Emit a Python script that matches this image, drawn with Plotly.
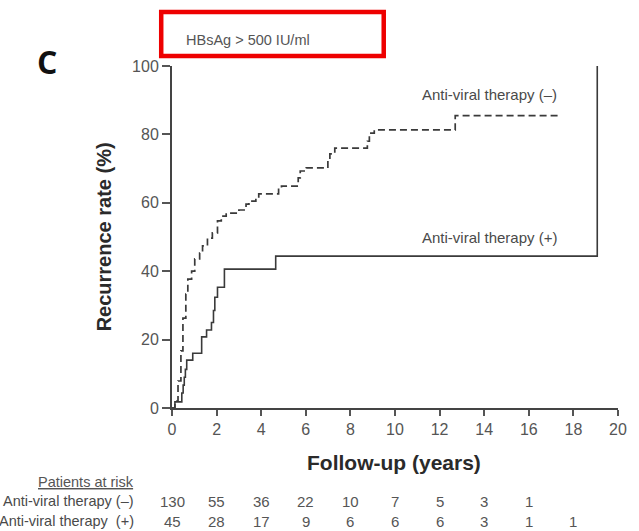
import plotly.graph_objects as go

# ---- data ----
years_ticks = [0, 2, 4, 6, 8, 10, 12, 14, 16, 18, 20]
rate_ticks = [0, 20, 40, 60, 80, 100]

# Anti-viral therapy (-) : dashed curve
neg_t = [0, 0.13, 0.27, 0.4, 0.49, 0.62, 0.71, 0.88, 1.02, 1.24, 1.37, 1.59, 1.81, 2.04, 2.21,
         2.43, 3.0, 3.32, 3.45, 3.76, 3.89, 4.78, 4.91, 5.66, 5.75, 6.02, 6.99, 7.08, 7.3,
         8.76, 8.85, 9.07, 12.7, 17.3]
neg_v = [0, 2, 7.9, 16.7, 26.3, 33.3, 37.7, 40, 43.6, 45.3, 47.4, 49.7, 51.2, 54.7, 56.1,
         57, 57.9, 59.6, 60.5, 61.4, 62.6, 64.3, 64.9, 67.3, 69.3, 70.2, 72.8, 74.3, 76,
         78, 80.4, 81.3, 85.5, 85.5]

# Anti-viral therapy (+) : solid curve
pos_t = [0, 0.13, 0.44, 0.5, 0.55, 0.6, 0.66, 0.93, 1.33, 1.55, 1.77, 1.86, 1.92, 2.04, 2.35,
         4.65, 19.07, 19.07]
pos_v = [0, 1.8, 4.4, 6.7, 9, 11.3, 14, 16, 20.8, 22.8, 25, 28.5, 32.4, 35.3, 40.6,
         44.4, 44.4, 100]

risk_times = [0, 2, 4, 6, 8, 10, 12, 14, 16, 18]
risk_neg = [130, 55, 36, 22, 10, 7, 5, 3, 1, None]
risk_pos = [45, 28, 17, 9, 6, 6, 6, 3, 1, 1]

label_neg = "Anti-viral therapy (–)"
label_pos = "Anti-viral therapy (+)"
risk_label_neg = "Anti-viral therapy (–)"
risk_label_pos = "Anti-viral therapy \u00a0(+)"

# ---- layout geometry (pixels) ----
W, H = 639, 531
L, R, T, B = 172, 12, 66, 123
PW, PH = W - L - R, H - T - B

def px(xp):
    return (xp - L) / PW

def py(yp):
    return (H - B - yp) / PH

FONT = "Liberation Sans, Arial, sans-serif"
TXT = "#4a4a4a"
NUM = "#555555"

fig = go.Figure()
fig.add_trace(go.Scatter(x=neg_t, y=neg_v, mode="lines", line_shape="hv",
                         line=dict(color="#3a3a3a", width=1.7, dash="7px,4px"),
                         showlegend=False, hoverinfo="skip"))
fig.add_trace(go.Scatter(x=pos_t, y=pos_v, mode="lines", line_shape="hv",
                         line=dict(color="#3a3a3a", width=1.6),
                         showlegend=False, hoverinfo="skip"))

ann = []
# curve labels
ann.append(dict(text=label_neg, x=px(567), y=py(95), xref="paper", yref="paper",
                xanchor="right", yanchor="middle", showarrow=False,
                font=dict(size=15, color=TXT, family=FONT)))
ann.append(dict(text=label_pos, x=px(567), y=py(237), xref="paper", yref="paper",
                xanchor="right", yanchor="middle", showarrow=False,
                font=dict(size=15, color=TXT, family=FONT)))
# axis titles
ann.append(dict(text="<b>Follow-up (years)</b>", x=px(398), y=py(463), xref="paper", yref="paper",
                xanchor="center", yanchor="middle", showarrow=False,
                font=dict(size=21, color="#2a2a2a", family=FONT)))
ann.append(dict(text="<b>Recurrence rate (%)</b>", x=px(103), y=py(237), xref="paper", yref="paper",
                xanchor="center", yanchor="middle", showarrow=False, textangle=-90,
                font=dict(size=20, color="#2a2a2a", family=FONT)))
# panel letter
ann.append(dict(text="<b>C</b>", x=px(44), y=py(62), xref="paper", yref="paper",
                xanchor="center", yanchor="middle", showarrow=False,
                font=dict(size=32, color="#111111", family="Open Sans, Liberation Sans, sans-serif")))
# header box text
ann.append(dict(text="HBsAg > 500 IU/ml", x=px(184), y=py(40), xref="paper", yref="paper",
                xanchor="left", yanchor="middle", showarrow=False,
                font=dict(size=14.5, color="#555555", family=FONT)))
# patients at risk table
ann.append(dict(text="Patients at risk", x=px(135), y=py(482), xref="paper", yref="paper",
                xanchor="right", yanchor="middle", showarrow=False,
                font=dict(size=14.5, color="#555555", family=FONT, lineposition="under")))
ann.append(dict(text=risk_label_neg, x=px(135), y=py(501), xref="paper", yref="paper",
                xanchor="right", yanchor="middle", showarrow=False,
                font=dict(size=14.5, color=TXT, family=FONT)))
ann.append(dict(text=risk_label_pos, x=px(135), y=py(521), xref="paper", yref="paper",
                xanchor="right", yanchor="middle", showarrow=False,
                font=dict(size=14.5, color=TXT, family=FONT)))
for t, n1, n2 in zip(risk_times, risk_neg, risk_pos):
    if n1 is not None:
        ann.append(dict(text=str(n1), x=t, y=py(501), xref="x", yref="paper",
                        xanchor="center", yanchor="middle", showarrow=False,
                        font=dict(size=15, color=NUM, family=FONT)))
    if n2 is not None:
        ann.append(dict(text=str(n2), x=t, y=py(521), xref="x", yref="paper",
                        xanchor="center", yanchor="middle", showarrow=False,
                        font=dict(size=15, color=NUM, family=FONT)))

shapes = [dict(type="rect", xref="paper", yref="paper",
               x0=px(161), x1=px(388), y0=py(56), y1=py(12),
               line=dict(color="#ee0000", width=4.5), fillcolor="rgba(0,0,0,0)")]

fig.update_layout(
    width=W, height=H, autosize=False,
    margin=dict(l=L, r=R, t=T, b=B, pad=0),
    paper_bgcolor="white", plot_bgcolor="white",
    annotations=ann, shapes=shapes,
    xaxis=dict(range=[0, 20], tickvals=years_ticks, ticktext=[str(v) for v in years_ticks],
               showgrid=False, zeroline=False, showline=True, linecolor="#444444", linewidth=2,
               ticks="outside", ticklen=6, tickwidth=1.5, tickcolor="#555555",
               tickfont=dict(size=16, color="#555555", family=FONT), fixedrange=True),
    yaxis=dict(range=[0, 100], tickvals=rate_ticks, ticktext=[str(v) for v in rate_ticks],
               showgrid=False, zeroline=False, showline=True, linecolor="#444444", linewidth=2,
               ticks="outside", ticklen=8, tickwidth=1.5, tickcolor="#555555",
               tickfont=dict(size=16, color="#555555", family=FONT), fixedrange=True),
)

fig.write_html("out.html")
